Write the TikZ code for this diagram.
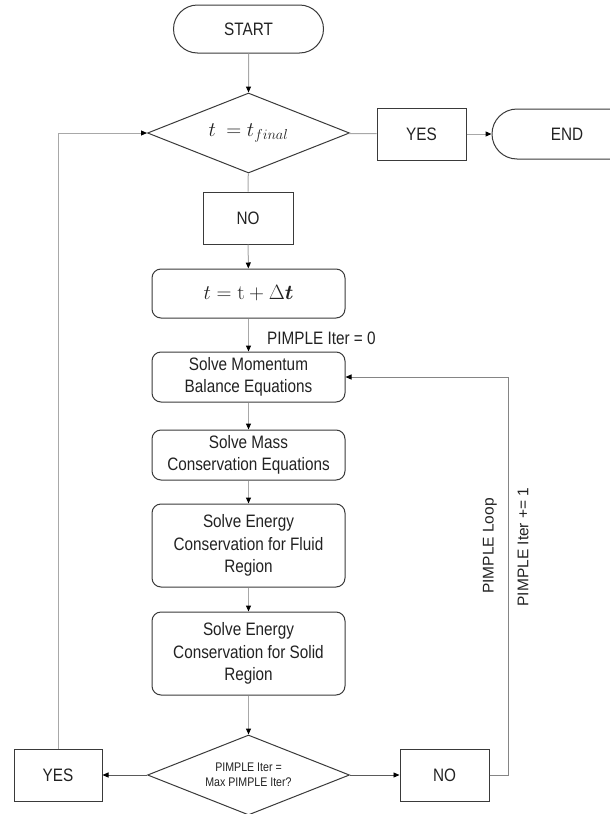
\documentclass[tikz,border=0pt]{standalone}
\usepackage[no-math]{fontspec}
\usepackage{amsmath,bm}
\setmainfont{Liberation Sans}[FakeStretch=0.85]
\newfontfamily\labelfont{Liberation Sans}
\usetikzlibrary{arrows.meta,shapes.geometric,shapes.misc}

\definecolor{bordc}{HTML}{3A3A3A}
\definecolor{textc}{HTML}{222222}
\definecolor{linec}{HTML}{A8A8A8}
\definecolor{linedark}{HTML}{5A5A5A}
\definecolor{linemid}{HTML}{858585}

\tikzset{
  box/.style={draw=bordc, line width=1pt, fill=white, text=textc, align=center,
    inner sep=0pt, font=\fontsize{18}{22.5}\selectfont},
  procbox/.style={box, rounded corners=9pt, minimum width=193pt},
  plainbox/.style={box, minimum width=89pt, minimum height=52pt},
  terminal/.style={box, rounded rectangle, minimum width=150pt},
  decision/.style={box, diamond, shape aspect=2.5, minimum width=202pt, minimum height=80pt},
  tipend/.style={-{Triangle[length=6pt,width=5pt,color=black]}},
  flow/.style={draw=linec, line width=1pt, tipend},
  link/.style={draw=linec, line width=1pt},
  sideflow/.style={draw=linedark, line width=0.9pt, tipend},
  loopflow/.style={draw=linemid, line width=1pt, tipend},
  note/.style={text=textc, inner sep=0pt},
}

\begin{document}
\begin{tikzpicture}[x=1pt, y=-1pt]
\path[use as bounding box] (0,0) rectangle (610,814);
\clip (0,0) rectangle (610,814);

% terminals
\node[terminal, minimum height=48pt] (start) at (248.5,29) {START};
\node[terminal, minimum height=50pt] (finish) at (567,134) {END};

% time loop test
\node[decision, font=\fontsize{19.5}{22}\selectfont] (tfin) at (248.5,133) {$t\ = t_{final}$};
\node[plainbox] (yes1) at (421.5,134) {YES};
\node[plainbox, minimum width=90pt] (no1) at (248,218) {NO};

% time advance
\node[procbox, minimum height=49pt, font=\fontsize{19.5}{22}\selectfont] (tstep) at (248.5,293.5)
  {$t = \mathrm{t} + \Delta\bm{t}$};

% PIMPLE loop body
\node[procbox, minimum height=50pt] (mom) at (248.5,377) {Solve Momentum\\Balance Equations};
\node[procbox, minimum height=50pt] (mass) at (248.5,455) {Solve Mass\\Conservation Equations};
\node[procbox, minimum height=83pt] (fluid) at (248.5,545.5) {Solve Energy\\Conservation for Fluid\\Region};
\node[procbox, minimum height=83pt] (solid) at (248.5,653.5) {Solve Energy\\Conservation for Solid\\Region};

% convergence test
\node[decision, font=\fontsize{12.5}{15.5}\selectfont] (iterchk) at (248.5,775)
  {\raisebox{-5pt}{\parbox{100pt}{\centering PIMPLE Iter =\\Max PIMPLE Iter?}}};
\node[plainbox, minimum width=88pt] (yes2) at (58,775) {YES};
\node[plainbox] (no2) at (444.5,775) {NO};

% labels
\node[note, anchor=west, font=\fontsize{18}{22}\selectfont] (iterzero) at (267,338) {PIMPLE Iter = 0};
\node[note, rotate=90, font=\labelfont\fontsize{15.5}{18}\selectfont] (looplabel) at (490,546) {PIMPLE Loop};
\node[note, rotate=90, font=\labelfont\fontsize{15.5}{18}\selectfont] (incrlabel) at (523,547) {PIMPLE Iter += 1};

\coordinate (loopturn) at (508,377);

% connectors
\draw[flow] (start) -- (tfin);
\draw[link] (tfin) -- (yes1);
\draw[flow] (yes1) -- (finish);
\draw[link] (tfin) -- (no1);
\draw[flow] (no1) -- (tstep);
\draw[flow] (tstep) -- (mom);
\draw[flow] (mom) -- (mass);
\draw[flow] (mass) -- (fluid);
\draw[flow] (fluid) -- (solid);
\draw[flow] (solid) -- (iterchk);
\draw[sideflow] (iterchk) -- (yes2);
\draw[sideflow] (iterchk) -- (no2);
\draw[flow] (yes2.north) |- (tfin.west);
\draw[loopflow] (no2.east) -| (loopturn) -- (mom.east);
\end{tikzpicture}
\end{document}
